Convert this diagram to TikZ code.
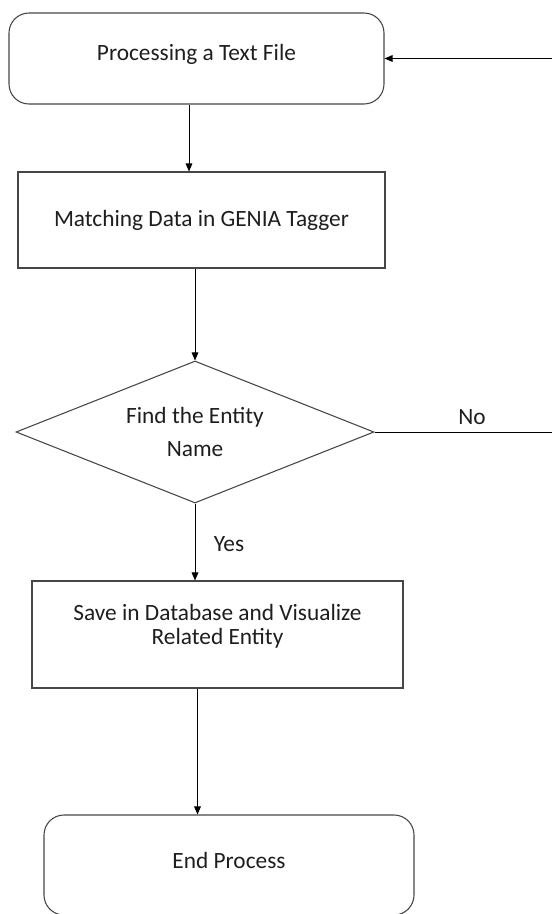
\documentclass[tikz,border=0pt]{standalone}
\usepackage{fontspec}
\setmainfont{Carlito}
\usepackage{tikz}
\usetikzlibrary{arrows.meta,shapes.geometric,positioning}
\usepackage{xcolor}
\definecolor{flowline}{RGB}{70,70,70}
\definecolor{flowtext}{RGB}{30,30,30}
\tikzset{
  flowbox/.style={draw=flowline,line width=0.8pt,inner sep=0pt,align=center,text=flowtext,font=\fontsize{17.5}{18}\selectfont},
  roundbox/.style={flowbox,rounded corners=15pt,text height=12pt,text depth=12pt},
  decbox/.style={flowbox,shape=diamond,aspect=2.52,font=\fontsize{17.5}{25}\selectfont},
  flowarr/.style={draw=black,line width=0.7pt,-{Triangle[length=6pt,width=5pt]}},
  flowlbl/.style={inner sep=0pt,text=flowtext,font=\fontsize{17.5}{18}\selectfont}
}
\begin{document}
\begin{tikzpicture}[x=0.75pt,y=-0.75pt]
  \useasboundingbox (0,0) rectangle (552,914);
  \coordinate (back) at (562,0);
  \node[roundbox,text depth=9pt,minimum width=281.25pt,minimum height=68.25pt] (start) at (196.5,58.5) {Processing a Text File};
  \node[flowbox,minimum width=275.25pt,minimum height=72pt] (match) at (201.5,220) {Matching Data in GENIA Tagger};
  \node[decbox,minimum width=268.5pt,minimum height=106.5pt] (dec) at (195,432) {Find the Entity\\Name};
  \node[flowbox,text depth=15.6pt,minimum width=278.25pt,minimum height=80.25pt] (save) at (217.5,634.5) {Save in Database and Visualize\\Related Entity};
  \node[roundbox,text depth=7.5pt,minimum width=277.5pt,minimum height=75pt] (end) at (229,865) {End Process};
  \node[flowlbl] (no) at (472,417) {No}; \node[flowlbl] (yes) at (229,544) {Yes};
  \draw[flowarr] (start.south -| 189,0) -- (match.north -| 189,0);
  \draw[flowarr] (match.south -| dec.north) -- (dec.north);
  \draw[flowarr] (dec.south) -- (dec.south |- save.north);
  \draw[flowarr] (save.south -| 197.5,0) -- (end.north -| 197.5,0);
  \draw[flowarr] (dec.east) -- (dec.east -| back) |- (start.east);
\end{tikzpicture}
\end{document}
